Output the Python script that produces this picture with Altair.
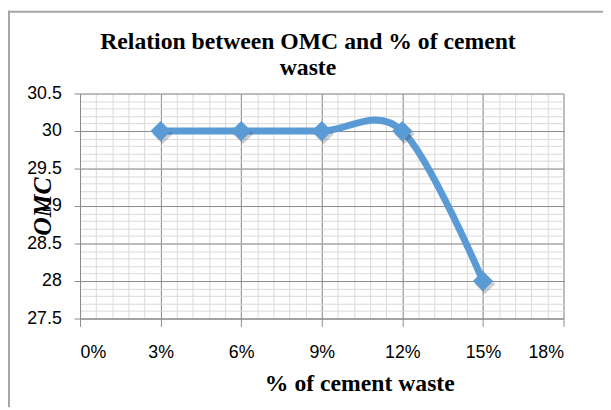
import altair as alt
import pandas as pd

pct = [0.03, 0.06, 0.09, 0.12, 0.15]
omc = [30, 30, 30, 30, 28]

x_major = [0, 0.03, 0.06, 0.09, 0.12, 0.15, 0.18]
x_minor = [i * 0.006 for i in range(31)]
y_major = [27.5, 28, 28.5, 29, 29.5, 30, 30.5]
y_minor = [round(27.5 + i * 0.1, 1) for i in range(31)]

df = pd.DataFrame({"pct": pct, "omc": omc})

BLUE = "#5B9BD5"
xs = alt.Scale(domain=[0, 0.18], nice=False, zero=False)
ys = alt.Scale(domain=[27.5, 30.5], nice=False, zero=False)

base = alt.Chart(df)

minor = base.mark_point(opacity=0).encode(
    x=alt.X("pct:Q", scale=xs, axis=alt.Axis(values=x_minor, grid=True, gridColor="#d9d9d9",
            gridWidth=1, labels=False, ticks=False, domain=False, title=None, orient="bottom")),
    y=alt.Y("omc:Q", scale=ys, axis=alt.Axis(values=y_minor, grid=True, gridColor="#d9d9d9",
            gridWidth=1, labels=False, ticks=False, domain=False, title=None, orient="left")),
)

major = base.mark_point(opacity=0).encode(
    x=alt.X("pct:Q", scale=xs, axis=alt.Axis(
        values=x_major, format=".0%", grid=True, gridColor="#8c8c8c", gridWidth=1,
        domain=True, domainColor="#8c8c8c", ticks=True, tickColor="#8c8c8c", tickSize=8,
        labelFont="Liberation Sans", labelFontSize=18, labelColor="#000000", labelPadding=17,
        title="% of cement waste", titleFont="Liberation Serif", titleFontSize=24,
        titleFontWeight="bold", titleColor="#000000", titlePadding=11, titleX=283, orient="bottom")),
    y=alt.Y("omc:Q", scale=ys, axis=alt.Axis(
        values=y_major, format=".3~g", grid=True, gridColor="#8c8c8c", gridWidth=1,
        domain=True, domainColor="#8c8c8c", ticks=True, tickColor="#8c8c8c", tickSize=6,
        labelFont="Liberation Sans", labelFontSize=18, labelColor="#000000", labelPadding=13,
        title="OMC", titleFont="Liberation Serif", titleFontSize=26, titleFontWeight="bold",
        titleFontStyle="italic", titleColor="#000000", titleX=-38, titleY=114,
        titleAngle=270, titleAlign="center", titleBaseline="middle", orient="left")),
)

line = base.mark_line(color=BLUE, strokeWidth=7, interpolate="cardinal", tension=0).encode(
    x=alt.X("pct:Q", scale=xs, axis=None),
    y=alt.Y("omc:Q", scale=ys, axis=None),
)

shadow = base.mark_point(shape="diamond", filled=True, size=420, color="#333333",
                         opacity=0.25, xOffset=2, yOffset=3).encode(
    x=alt.X("pct:Q", scale=xs, axis=None),
    y=alt.Y("omc:Q", scale=ys, axis=None),
)

pts = base.mark_point(shape="diamond", filled=True, size=420, color=BLUE, opacity=1).encode(
    x=alt.X("pct:Q", scale=xs, axis=None),
    y=alt.Y("omc:Q", scale=ys, axis=None),
)

border_left = alt.Chart(pd.DataFrame({"k": [0]})).mark_rule(color="#a6a6a6", strokeWidth=2).encode(
    x=alt.value(-72), y=alt.value(-84), y2=alt.value(318))
border_top = alt.Chart(pd.DataFrame({"k": [0]})).mark_rule(color="#a6a6a6", strokeWidth=2).encode(
    x=alt.value(-73), x2=alt.value(530), y=alt.value(-83))

chart = alt.layer(minor, major, line, shadow, pts, border_left, border_top).resolve_axis(
    x="independent", y="independent"
).properties(
    width=490, height=228,
    padding={"left": 73, "top": 84, "right": 40, "bottom": 90},
    autosize=alt.AutoSizeParams(type="none"),
    title=alt.TitleParams(
        text=["Relation between OMC and % of cement", "waste"],
        font="Liberation Serif", fontSize=24, fontWeight="bold", color="#000000",
        anchor="middle", frame="group", dx=-14, offset=-71, lineHeight=26,
    ),
).configure_view(stroke=None)

chart.save("out.html", embed_options={"renderer": "svg", "actions": False})
